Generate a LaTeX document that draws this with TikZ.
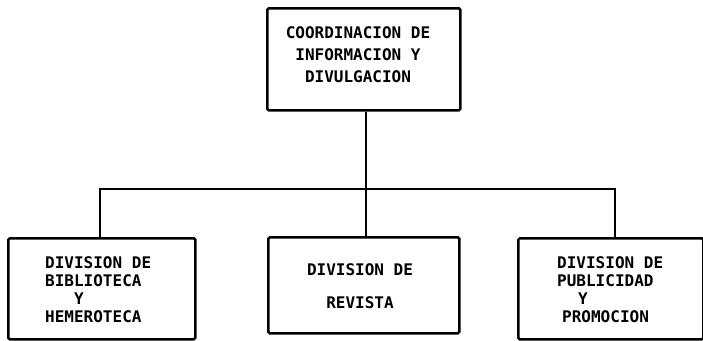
\documentclass[tikz,border=0pt]{standalone}
\usepackage{fontspec}
\newfontfamily\typew{DejaVu Sans Mono Bold}
\begin{document}
\begin{tikzpicture}[x=1pt,y=-1pt,
  box/.style={draw,line width=2.6pt,rounded corners=1.5pt,inner sep=0pt,anchor=north west},
  conn/.style={line width=2.6pt},
  lbl/.style={font=\typew\fontsize{16}{18}\selectfont,align=left,inner sep=0pt}]
\useasboundingbox (0,0) rectangle (703,340);
% boxes
\node[box,minimum width=193pt,minimum height=102pt] (top) at (266,7) {};
\node[box,minimum width=187pt,minimum height=101pt] (left) at (7,237) {};
\node[box,minimum width=191pt,minimum height=96pt] (mid) at (267,236) {};
\node[box,minimum width=185pt,minimum height=101pt] (right) at (517,237) {};
% texts
\node[lbl,align=center,font=\typew\fontsize{16}{22}\selectfont] (ttop) at (358,55) {COORDINACION DE\\INFORMACION Y\\DIVULGACION};
\node[lbl,anchor=west] (tleft) at (45,290) {DIVISION DE\\BIBLIOTECA\\\hspace*{29pt}Y\\HEMEROTECA};
\node[lbl,align=center,font=\typew\fontsize{16}{33}\selectfont] (tmid) at (360,286) {DIVISION DE\\REVISTA};
\node[lbl,anchor=west] (tright) at (557,290) {DIVISION DE\\PUBLICIDAD\\\hspace*{21pt}Y\\\hspace*{5pt}PROMOCION};
% junctions
\coordinate (jl) at (100,189);
\coordinate (jm) at (366,189);
\coordinate (jr) at (615,189);
% connectors
\draw[conn] (top.south -| jm) -- (jm);
\draw[conn] (jl |- left.north) -- (jl) -- (jr) -- (jr |- right.north);
\draw[conn] (jm) -- (jm |- mid.north);
\end{tikzpicture}
\end{document}
